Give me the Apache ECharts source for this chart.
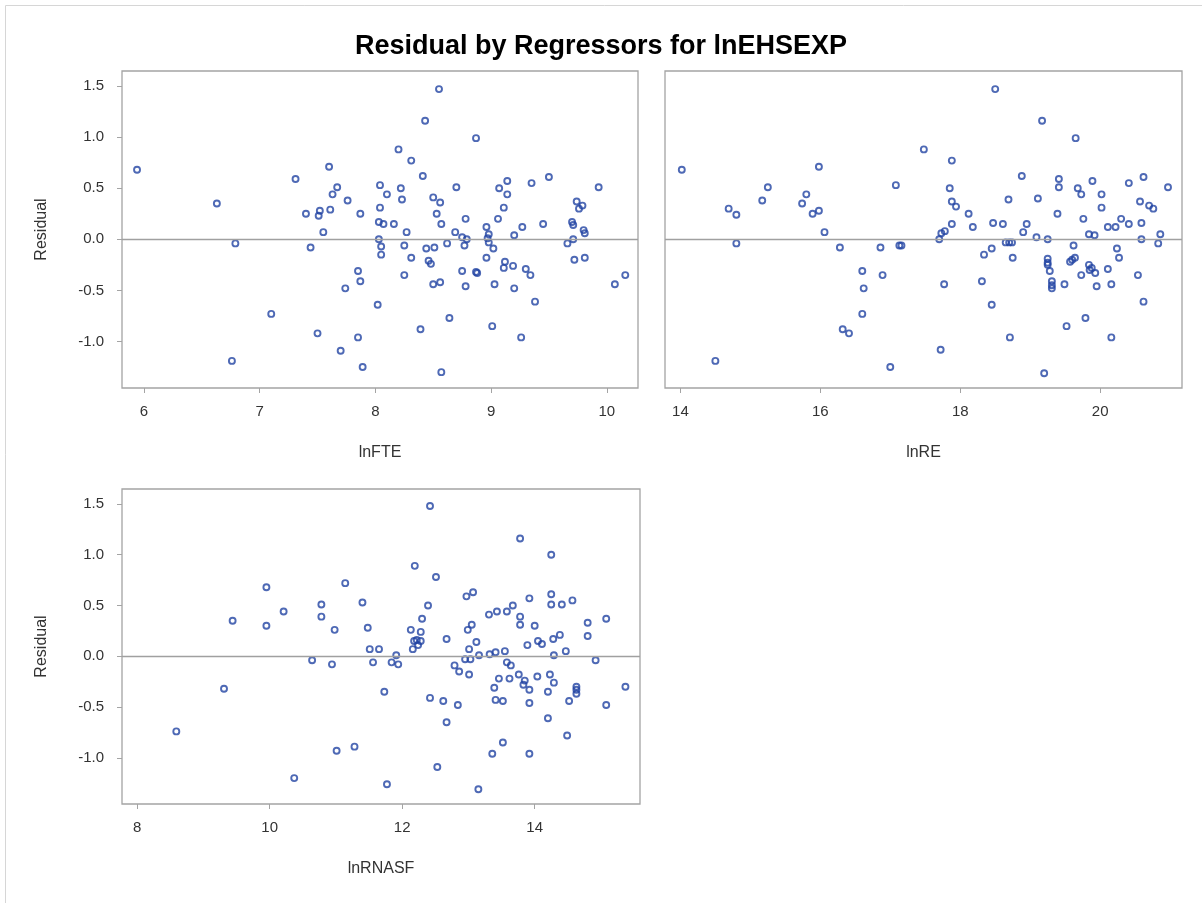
<!DOCTYPE html>
<html>
<head>
<meta charset="utf-8">
<script src="https://cdn.jsdelivr.net/npm/echarts@6/dist/echarts.min.js"></script>
<style>
  html, body { margin: 0; padding: 0; background: #fff; }
  #chart { width: 1202px; height: 903px; }
</style>
</head>
<body>
<div id="chart"></div>
<script>
// Residuals of the lnEHSEXP model plotted against each regressor: [regressor, residual]
const lnFTE = [
  [5.94,0.68],[6.63,0.35],[6.79,-0.04],[6.76,-1.19],[7.10,-0.73],[7.31,0.59],[7.40,0.25],[7.44,-0.08],
  [7.50,-0.92],[7.51,0.23],[7.52,0.28],[7.55,0.07],[7.60,0.71],[7.61,0.29],[7.63,0.44],[7.67,0.51],
  [7.70,-1.09],[7.74,-0.48],[7.76,0.38],[7.85,-0.31],[7.85,-0.96],[7.87,0.25],[7.87,-0.41],[7.89,-1.25],
  [8.02,-0.64],[8.03,0.17],[8.03,0.00],[8.04,0.53],[8.04,0.31],[8.05,-0.07],[8.05,-0.15],[8.07,0.15],
  [8.10,0.44],[8.16,0.15],[8.20,0.88],[8.22,0.50],[8.23,0.39],[8.25,-0.06],[8.25,-0.35],[8.27,0.07],
  [8.31,0.77],[8.31,-0.18],[8.39,-0.88],[8.41,0.62],[8.43,1.16],[8.44,-0.09],[8.46,-0.21],[8.48,-0.24],
  [8.50,0.41],[8.50,-0.44],[8.51,-0.08],[8.53,0.25],[8.55,1.47],[8.56,0.36],[8.56,-0.42],[8.57,0.15],
  [8.57,-1.30],[8.62,-0.04],[8.64,-0.77],[8.69,0.07],[8.70,0.51],[8.75,0.02],[8.75,-0.31],[8.77,-0.06],
  [8.78,0.20],[8.78,-0.46],[8.79,0.00],[8.87,0.99],[8.87,-0.32],[8.88,-0.33],[8.96,0.12],[8.96,-0.18],
  [8.97,0.01],[8.98,0.05],[8.98,-0.03],[9.01,-0.85],[9.02,-0.09],[9.03,-0.44],[9.06,0.20],[9.07,0.50],
  [9.11,0.31],[9.11,-0.28],[9.12,-0.22],[9.14,0.57],[9.14,0.44],[9.19,-0.26],[9.20,0.04],[9.20,-0.48],
  [9.26,-0.96],[9.27,0.12],[9.30,-0.29],[9.34,-0.35],[9.35,0.55],[9.38,-0.61],[9.45,0.15],[9.50,0.61],
  [9.66,-0.04],[9.70,0.17],[9.71,0.14],[9.71,0.00],[9.72,-0.20],[9.74,0.37],[9.76,0.30],[9.79,0.33],
  [9.80,0.09],[9.81,0.06],[9.81,-0.18],[9.93,0.51],[10.07,-0.44],[10.16,-0.35]
];

const lnRE = [
  [14.02,0.68],[14.50,-1.19],[14.69,0.30],[14.80,0.24],[14.80,-0.04],[15.17,0.38],[15.25,0.51],[15.74,0.35],
  [15.80,0.44],[15.89,0.25],[15.98,0.28],[15.98,0.71],[16.06,0.07],[16.28,-0.08],[16.32,-0.88],[16.41,-0.92],
  [16.60,-0.31],[16.60,-0.73],[16.62,-0.48],[16.86,-0.08],[16.89,-0.35],[17.00,-1.25],[17.08,0.53],[17.13,-0.06],
  [17.16,-0.06],[17.48,0.88],[17.70,0.00],[17.72,-1.08],[17.73,0.06],[17.77,-0.44],[17.78,0.08],[17.85,0.50],
  [17.88,0.77],[17.88,0.37],[17.88,0.15],[17.94,0.32],[18.12,0.25],[18.18,0.12],[18.31,-0.41],[18.34,-0.15],
  [18.45,-0.09],[18.45,-0.64],[18.47,0.16],[18.50,1.47],[18.61,0.15],[18.65,-0.03],[18.69,0.39],[18.70,-0.03],
  [18.71,-0.96],[18.74,-0.03],[18.75,-0.18],[18.88,0.62],[18.90,0.07],[18.95,0.15],[19.09,0.02],[19.11,0.40],
  [19.17,1.16],[19.20,-1.31],[19.25,0.00],[19.25,-0.19],[19.25,-0.23],[19.25,-0.25],[19.28,-0.31],[19.31,-0.41],
  [19.31,-0.45],[19.31,-0.48],[19.39,0.25],[19.41,0.59],[19.41,0.51],[19.49,-0.44],[19.52,-0.85],[19.57,-0.22],
  [19.60,-0.20],[19.62,-0.06],[19.64,-0.18],[19.65,0.99],[19.68,0.50],[19.73,0.44],[19.73,-0.35],[19.76,0.20],
  [19.79,-0.77],[19.84,0.05],[19.84,-0.25],[19.85,-0.30],[19.88,-0.28],[19.89,0.57],[19.92,0.04],[19.93,-0.33],
  [19.95,-0.46],[20.02,0.44],[20.02,0.31],[20.11,0.12],[20.11,-0.29],[20.16,-0.44],[20.16,-0.96],[20.22,0.12],
  [20.24,-0.09],[20.27,-0.18],[20.30,0.20],[20.41,0.55],[20.41,0.15],[20.54,-0.35],[20.57,0.37],[20.59,0.16],
  [20.59,0.00],[20.62,0.61],[20.62,-0.61],[20.70,0.33],[20.76,0.30],[20.83,-0.04],[20.86,0.05],[20.97,0.51]
];

const lnRNASF = [
  [8.59,-0.74],[9.31,-0.32],[9.44,0.35],[9.95,0.68],[9.95,0.30],[10.21,0.44],[10.37,-1.20],[10.64,-0.04],
  [10.78,0.51],[10.78,0.39],[10.94,-0.08],[10.98,0.26],[11.01,-0.93],[11.14,0.72],[11.28,-0.89],[11.40,0.53],
  [11.48,0.28],[11.51,0.07],[11.56,-0.06],[11.65,0.07],[11.73,-0.35],[11.77,-1.26],[11.84,-0.06],[11.91,0.01],
  [11.94,-0.08],[12.13,0.26],[12.16,0.07],[12.18,0.15],[12.19,0.89],[12.22,0.16],[12.24,0.11],[12.28,0.24],
  [12.28,0.15],[12.30,0.37],[12.39,0.50],[12.42,1.48],[12.42,-0.41],[12.51,0.78],[12.53,-1.09],[12.62,-0.44],
  [12.67,0.17],[12.67,-0.65],[12.79,-0.09],[12.84,-0.48],[12.86,-0.15],[12.95,-0.03],[12.97,0.59],[12.99,0.26],
  [13.01,0.07],[13.01,-0.18],[13.03,-0.03],[13.05,0.31],[13.07,0.63],[13.12,0.14],[13.15,-1.31],[13.16,0.01],
  [13.31,0.41],[13.32,0.02],[13.36,-0.96],[13.39,-0.31],[13.41,0.04],[13.41,-0.43],[13.43,0.44],[13.46,-0.22],
  [13.52,-0.44],[13.52,-0.85],[13.55,0.05],[13.58,0.44],[13.58,-0.06],[13.62,-0.22],[13.64,-0.09],[13.67,0.50],
  [13.76,-0.18],[13.78,1.16],[13.78,0.39],[13.78,0.31],[13.83,-0.28],[13.85,-0.24],[13.89,0.11],[13.92,0.57],
  [13.92,-0.33],[13.92,-0.46],[13.92,-0.96],[14.00,0.30],[14.04,-0.20],[14.05,0.15],[14.11,0.12],[14.20,-0.35],
  [14.20,-0.61],[14.23,-0.18],[14.25,1.00],[14.25,0.61],[14.25,0.51],[14.28,0.17],[14.29,0.01],[14.29,-0.26],
  [14.38,0.21],[14.41,0.51],[14.47,0.05],[14.49,-0.78],[14.52,-0.44],[14.57,0.55],[14.63,-0.30],[14.63,-0.33],
  [14.63,-0.37],[14.80,0.33],[14.80,0.20],[14.92,-0.04],[15.08,0.37],[15.08,-0.48],[15.37,-0.30]
];

// Axis ranges and tick values
const residRange = [-1.455, 1.647];
const residTicks = [-1.0, -0.5, 0.0, 0.5, 1.0, 1.5];
const fteRange = [5.81, 10.27];
const fteTicks = [6, 7, 8, 9, 10];
const reRange = [13.78, 21.17];
const reTicks = [14, 16, 18, 20];
const rnasfRange = [7.77, 15.59];
const rnasfTicks = [8, 10, 12, 14];

const FONT = '"Liberation Sans", Arial, sans-serif';
const TEXT = '#333333';
const FRAME = '#a4a4a4';
const MARK = '#2243a3';

const chart = echarts.init(document.getElementById('chart'), null, { renderer: 'canvas' });

function xAxisFor(gridIndex, name, range, ticks) {
  return {
    type: 'value', gridIndex, name, nameLocation: 'middle', nameGap: 57,
    nameTextStyle: { fontFamily: FONT, fontSize: 16, color: TEXT },
    min: range[0], max: range[1],
    axisLine: { show: false, onZero: false },
    axisTick: { show: true, length: 5, lineStyle: { color: FRAME }, customValues: ticks },
    axisLabel: { fontFamily: FONT, fontSize: 15, color: TEXT, margin: 16, customValues: ticks },
    splitLine: { show: false }
  };
}

function yAxisFor(gridIndex, showLabels) {
  return {
    type: 'value', gridIndex,
    name: showLabels ? 'Residual' : '', nameLocation: 'middle', nameGap: 72, nameRotate: 90,
    nameTextStyle: { fontFamily: FONT, fontSize: 16, color: TEXT },
    min: residRange[0], max: residRange[1],
    axisLine: { show: false, onZero: false },
    axisTick: { show: showLabels, length: 5, lineStyle: { color: FRAME }, customValues: residTicks },
    axisLabel: {
      show: showLabels, fontFamily: FONT, fontSize: 15, color: TEXT, margin: 18,
      customValues: residTicks, formatter: v => v.toFixed(1)
    },
    splitLine: { show: false }
  };
}

function scatterFor(idx, data) {
  return {
    type: 'scatter', xAxisIndex: idx, yAxisIndex: idx, data,
    symbol: 'circle', symbolSize: 6,
    itemStyle: { color: 'rgba(0,0,0,0)', borderColor: MARK, borderWidth: 1.9 },
    emphasis: { disabled: true },
    markLine: {
      silent: true, symbol: 'none', label: { show: false },
      lineStyle: { color: '#a0a0a0', type: 'solid', width: 1.3 },
      data: [{ yAxis: 0 }]
    },
    z: 3
  };
}

const option = {
  backgroundColor: '#ffffff',
  animation: false,
  title: {
    text: 'Residual by Regressors for lnEHSEXP',
    left: 'center', top: 28,
    textStyle: { fontFamily: FONT, fontSize: 27, fontWeight: 'bold', color: '#000' }
  },
  grid: [
    { left: 122, top: 71, width: 516, height: 317, show: true, borderColor: FRAME, borderWidth: 1.3, backgroundColor: '#fff' },
    { left: 665, top: 71, width: 517, height: 317, show: true, borderColor: FRAME, borderWidth: 1.3, backgroundColor: '#fff' },
    { left: 122, top: 489, width: 518, height: 315, show: true, borderColor: FRAME, borderWidth: 1.3, backgroundColor: '#fff' }
  ],
  xAxis: [
    xAxisFor(0, 'lnFTE', fteRange, fteTicks),
    xAxisFor(1, 'lnRE', reRange, reTicks),
    xAxisFor(2, 'lnRNASF', rnasfRange, rnasfTicks)
  ],
  yAxis: [yAxisFor(0, true), yAxisFor(1, false), yAxisFor(2, true)],
  series: [scatterFor(0, lnFTE), scatterFor(1, lnRE), scatterFor(2, lnRNASF)],
  graphic: [{
    type: 'rect', silent: true, z: -1,
    shape: { x: 5.5, y: 5.5, width: 1200, height: 900 },
    style: { fill: 'none', stroke: '#d6d6d6', lineWidth: 1 }
  }]
};

chart.setOption(option);
</script>
</body>
</html>
